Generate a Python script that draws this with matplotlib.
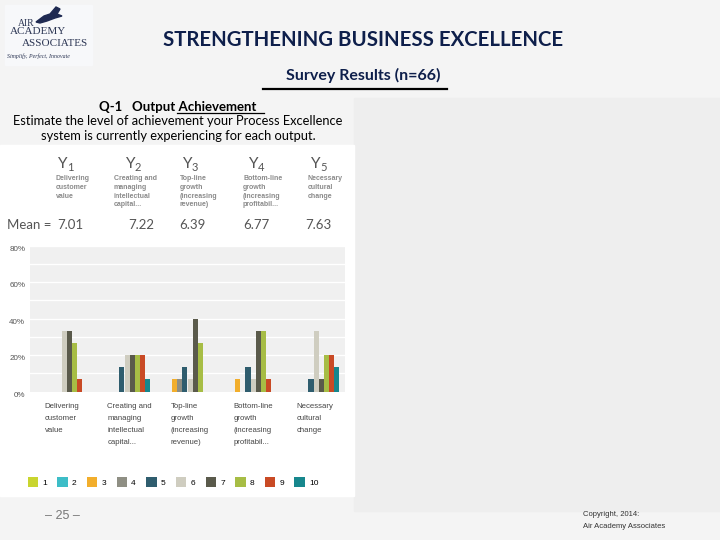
import numpy as np
import matplotlib
matplotlib.use('Agg')
import matplotlib.pyplot as plt
from matplotlib.patches import Rectangle, Polygon
from matplotlib.lines import Line2D

# survey data (percent of respondents giving each rating 1..10)
outputs = ['Delivering\ncustomer\nvalue',
           'Creating and\nmanaging\nintellectual\ncapital...',
           'Top-line\ngrowth\n(increasing\nrevenue)',
           'Bottom-line\ngrowth\n(increasing\nprofitabil...',
           'Necessary\ncultural\nchange']
ratings = ['1', '2', '3', '4', '5', '6', '7', '8', '9', '10']
y1 = [0, 0, 0, 0, 0, 33.3, 33.3, 26.7, 6.7, 0]
y2 = [0, 0, 0, 0, 13.3, 20, 20, 20, 20, 6.7]
y3 = [0, 0, 6.7, 6.7, 13.3, 6.7, 40, 26.7, 0, 0]
y4 = [0, 0, 6.7, 0, 13.3, 6.7, 33.3, 33.3, 6.7, 0]
y5 = [0, 0, 0, 0, 6.7, 33.3, 6.7, 20, 20, 13.3]
means = ['7.01', '7.22', '6.39', '6.77', '7.63']

colors = ['#c9d52f', '#3dbdc7', '#f2ae2c', '#8f8f84', '#2f5d6e',
          '#cfcdc0', '#5a5a4b', '#a7bd45', '#c94a25', '#17878d']

CAL = ['Lato', 'DejaVu Sans']
ARIAL = ['Liberation Sans', 'DejaVu Sans']

W, H = 720, 540
def fx(x): return x / W
def fy(y): return 1 - y / H

fig = plt.figure(figsize=(7.2, 5.4), dpi=100)
fig.patch.set_facecolor('#f4f4f4')

# panels
fig.patches.append(Rectangle((fx(354), fy(511)), fx(366), (511 - 98) / H,
                             transform=fig.transFigure, color='#eeeeee', zorder=-2))
fig.patches.append(Rectangle((0, fy(496)), fx(354), (496 - 145) / H,
                             transform=fig.transFigure, color='white', zorder=-2))

# logo
fig.patches.append(Rectangle((fx(5), fy(65)), fx(87), 60 / H,
                             transform=fig.transFigure, color='#f7f8fa', zorder=-2))
bird = [(36, 22), (44, 16), (50, 14), (56, 7), (60, 9), (57, 14), (62, 16),
        (55, 18), (47, 21), (40, 23)]
fig.patches.append(Polygon([(fx(a), fy(b)) for a, b in bird], closed=True,
                           transform=fig.transFigure, color='#1f2a52', zorder=-1))
fig.text(fx(18), fy(24), 'AIR', fontsize=7, family='Liberation Serif',
         color='#2b3553', va='center')
fig.text(fx(10), fy(32), 'ACADEMY', fontsize=8, family='Liberation Serif',
         color='#2b3553', va='center')
fig.text(fx(22), fy(43), 'ASSOCIATES', fontsize=8, family='Liberation Serif',
         color='#2b3553', va='center')
fig.text(fx(7), fy(56), 'Simplify, Perfect, Innovate', fontsize=4.2,
         family='Liberation Serif', style='italic', color='#2b3553', va='center')

# titles
fig.text(fx(363), fy(40), 'STRENGTHENING BUSINESS EXCELLENCE', fontsize=14.7,
         family=CAL, weight='bold', color='#0e1f4b', ha='center', va='center')
fig.text(fx(363), fy(75), 'Survey Results (n=66)', fontsize=11.5,
         family=CAL, weight='bold', color='#0e1f4b', ha='center', va='center')
fig.add_artist(Line2D([fx(263), fx(447)], [fy(89), fy(89)], color='black', lw=1.6))

fig.text(fx(178), fy(107), 'Q-1   Output Achievement', fontsize=9.5,
         family=CAL, weight='bold', color='black', ha='center', va='center')
fig.add_artist(Line2D([fx(177), fx(264)], [fy(113), fy(113)], color='black', lw=0.9))
fig.text(fx(178), fy(121), 'Estimate the level of achievement your Process Excellence',
         fontsize=9.3, family=CAL, color='black', ha='center', va='center')
fig.text(fx(178), fy(136), 'system is currently experiencing for each output.',
         fontsize=9.3, family=CAL, color='black', ha='center', va='center')

# chart header: Y labels, descriptions, means
y_x = [58, 126, 183, 249, 311]
desc_x = [56, 114, 180, 243, 308]
mean_x = [57, 128, 179, 243, 305]
for i in range(5):
    fig.text(fx(y_x[i]), fy(168), 'Y', fontsize=11, family=CAL, color='#555555',
             va='baseline')
    fig.text(fx(y_x[i] + 9), fy(171), str(i + 1), fontsize=8, family=CAL,
             color='#555555', va='baseline')
    fig.text(fx(desc_x[i]), fy(175), outputs[i], fontsize=5, family=ARIAL,
             weight='bold', color='#8a8a8a', va='top', linespacing=1.35)
    fig.text(fx(mean_x[i]), fy(225), means[i], fontsize=9.5, family=CAL,
             color='#555555', va='center')
fig.text(fx(7), fy(225), 'Mean =', fontsize=9.5, family=CAL, color='#555555',
         va='center')

# bar chart
ax = fig.add_axes([fx(30), fy(391.7), 315 / W, 146 / H])
ax.set_zorder(2)
ax.set_facecolor('#f0f0f0')
data = np.array([y1, y2, y3, y4, y5])
x = np.arange(len(outputs))
bw = 0.08
for k in range(len(ratings)):
    ax.bar(x + (k - 4.5) * bw, data[:, k], bw, color=colors[k], label=ratings[k],
           zorder=3)
ax.set_xlim(-0.5, 4.5)
ax.set_ylim(0, 80)
ax.set_yticks(np.arange(0, 81, 10), minor=True)
ax.set_yticks([0, 20, 40, 60, 80])
ax.set_yticklabels(['0%', '20%', '40%', '60%', '80%'], fontsize=5.8,
                   family=ARIAL, color='#555555')
ax.grid(axis='y', which='both', color='white', lw=1, zorder=1)
ax.tick_params(axis='both', which='both', length=0, pad=3.5)
for t in ax.get_yticklabels():
    t.set_verticalalignment('top')
ax.set_xticks([])
for s in ax.spines.values():
    s.set_visible(False)
ax.axhline(0, color='#d8d8d8', lw=0.8, zorder=2)

for i, lab in enumerate(outputs):
    ax.text(x[i] - 0.27, -6, lab, fontsize=5.6, family=ARIAL, color='#444444',
            ha='left', va='top', linespacing=2.0)

leg = ax.legend(ncol=10, loc='center left', bbox_to_anchor=(fx(20), fy(482)),
                bbox_transform=fig.transFigure, frameon=False,
                handlelength=1.25, handleheight=1.5, handletextpad=0.5,
                columnspacing=1.25, prop={'family': ARIAL, 'size': 6})

# footer
fig.text(fx(45), fy(516), '– 25 –', fontsize=9, family=ARIAL, color='#777777',
         va='center')
fig.text(fx(583), fy(515), 'Copyright, 2014:', fontsize=5.5, family=ARIAL,
         color='#333333', va='center')
fig.text(fx(583), fy(526), 'Air Academy Associates', fontsize=5.5, family=ARIAL,
         color='#333333', va='center')

fig.savefig('out.png', dpi=100, facecolor=fig.get_facecolor())
